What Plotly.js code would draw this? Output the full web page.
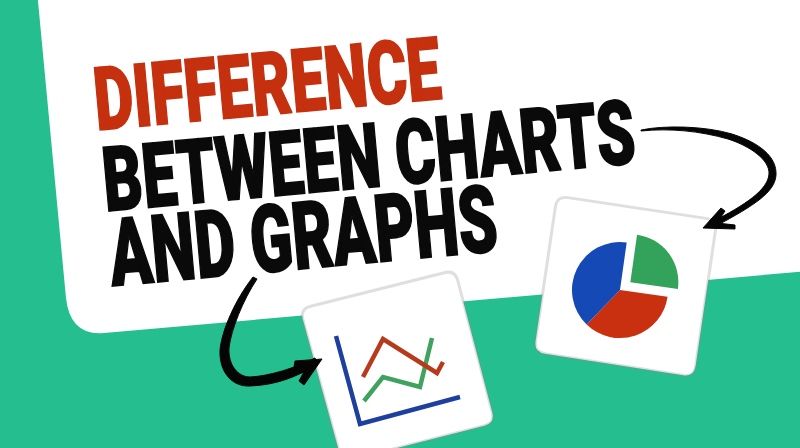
<!DOCTYPE html>
<html><head><meta charset="utf-8">
<script src="https://cdn.plot.ly/plotly-3.0.1.min.js"></script>
<style>html,body{margin:0;padding:0;background:#25BE8F}#c{width:800px;height:448px}</style>
</head><body><div id="c"></div>
<script>
// Text
var titleLines = ['DIFFERENCE', 'BETWEEN CHARTS', 'AND GRAPHS'];
var titleColors = ['#C5300F', '#0a0a0a', '#0a0a0a'];

// Pie card
var pieLabels = ['Green', 'Red', 'Blue'];
var pieValues = [25, 35, 40];
var pieColors = ['#33A35B', '#C9300F', '#1549B5'];

// Line card (plotted on the picture's own scale)
var axisX = [336, 360, 460];
var axisY = [336, 424, 397];
var redX = [363, 383, 437, 443];
var redY = [377, 339, 373, 362];
var greenX = [364, 383, 420, 432];
var greenY = [401, 377, 387, 338];

function rounded(v, r) {
  var n = v.length, d = '';
  for (var i = 0; i < n; i++) {
    var p = v[i], a = v[(i + n - 1) % n], b = v[(i + 1) % n];
    var la = Math.hypot(a[0]-p[0], a[1]-p[1]), lb = Math.hypot(b[0]-p[0], b[1]-p[1]);
    var s = [p[0]+(a[0]-p[0])*r/la, p[1]+(a[1]-p[1])*r/la];
    var e = [p[0]+(b[0]-p[0])*r/lb, p[1]+(b[1]-p[1])*r/lb];
    d += (i ? 'L' : 'M') + s[0] + ',' + s[1] + 'Q' + p[0] + ',' + p[1] + ' ' + e[0] + ',' + e[1];
  }
  return d + 'Z';
}
function fill(path, color, lineColor, lineWidth) {
  return {type:'path', path:path, fillcolor:color, line:{width:lineWidth||0, color:lineColor||color}, layer:'below', xref:'x', yref:'y'};
}
function ink(path) {
  return {type:'path', path:path, fillcolor:'#050505', line:{color:'#050505', width:1}, layer:'above', xref:'x', yref:'y'};
}

var pieCard = [[557,196],[717,220],[694,377],[534,352]];
var lineCard = [[300,309],[455,270],[495,423],[342,462]];

var shapes = [
  fill('M36,-20 L66,298 Q70,336 104,333 L820,270 L820,-20 Z', '#FFFFFF'),
  fill(rounded(pieCard, 11), '#FFFFFF', 'rgba(140,140,140,0.28)', 3),
  fill(rounded(lineCard, 11), '#FFFFFF', 'rgba(140,140,140,0.28)', 3),
  ink('M641,130 C665,125 705,126 732,134 C760,143 777,157 776,175 C775,192 755,205 716,226 L712,222 C745,205 768,190 769,174 C770,160 750,146 728,139 C700,131 670,128 641,131 Z'),
  ink('M703,228 L721,208 L725,211 L717,223 L735,225 L735,229 Z'),
  ink('M253,277 C235,300 222,330 220,350 C219,372 232,387 250,386 C275,385 295,378 318,364 L315,358 C295,368 270,376 250,377 C238,377 228,365 229,348 C231,330 243,300 257,279 Z'),
  ink('M322,359 L295,361 L294,367 L306,368 L299,381 L304,385 Z')
];

var lineStyle = function(c){ return {color:c, width:4.5, shape:'linear'}; };
var traces = [
  {type:'scatter', mode:'lines', x:axisX, y:axisY, line:lineStyle('#1D3F9E'), hoverinfo:'skip', showlegend:false},
  {type:'scatter', mode:'lines', x:greenX, y:greenY, line:lineStyle('#3FA35F'), hoverinfo:'skip', showlegend:false},
  {type:'scatter', mode:'lines', x:redX, y:redY, line:lineStyle('#B83A1C'), hoverinfo:'skip', showlegend:false},
  {type:'pie', labels:pieLabels, values:pieValues, sort:false, direction:'clockwise', rotation:8,
   pull:[0.27,0,0], marker:{colors:pieColors, line:{width:0}}, textinfo:'none', hoverinfo:'skip', showlegend:false,
   domain:{x:[559/800,681/800], y:[1-351/448,1-229/448]}}
];

var titleX = [267, 368, 302];
var titleY = [84, 156, 236];
var titleWidth = [348, 534, 390];
var titleStretch = [1.33, 1.36, 1.42];
var annotations = titleLines.map(function(t,i){
  return {text:t, x:titleX[i], y:titleY[i], xref:'x', yref:'y', showarrow:false, textangle:-5.2,
    xanchor:'center', yanchor:'middle', font:{family:'Roboto, "Liberation Sans", sans-serif', weight:900, size:66, color:titleColors[i]}};
});

var layout = {
  width:800, height:448, margin:{l:0,r:0,t:0,b:0,pad:0}, showlegend:false,
  paper_bgcolor:'#25BE8F', plot_bgcolor:'rgba(0,0,0,0)',
  xaxis:{range:[0,800], visible:false, fixedrange:true, domain:[0,1]},
  yaxis:{range:[448,0], visible:false, fixedrange:true, domain:[0,1]},
  shapes:shapes, annotations:annotations
};
Plotly.newPlot('c', traces, layout, {displayModeBar:false, staticPlot:true}).then(function(){
  document.querySelectorAll('.annotation-text-g').forEach(function(g,i){
    var t = g.getAttribute('transform') || '';
    var m = t.match(/rotate\(([-\d.]+)[ ,]+([-\d.]+)[ ,]+([-\d.]+)\)/);
    if(!m) return;
    var cx = +m[2], cy = +m[3];
    var txt = g.querySelector('text');
    var sx = titleWidth[i] / txt.getBBox().width;
    txt.style.stroke = titleColors[i];
    txt.style.strokeWidth = '1.3px';
    g.setAttribute('transform', t + ' translate('+cx+','+cy+') scale('+sx+','+titleStretch[i]+') translate('+(-cx)+','+(-cy)+')');
  });
});
</script></body></html>
